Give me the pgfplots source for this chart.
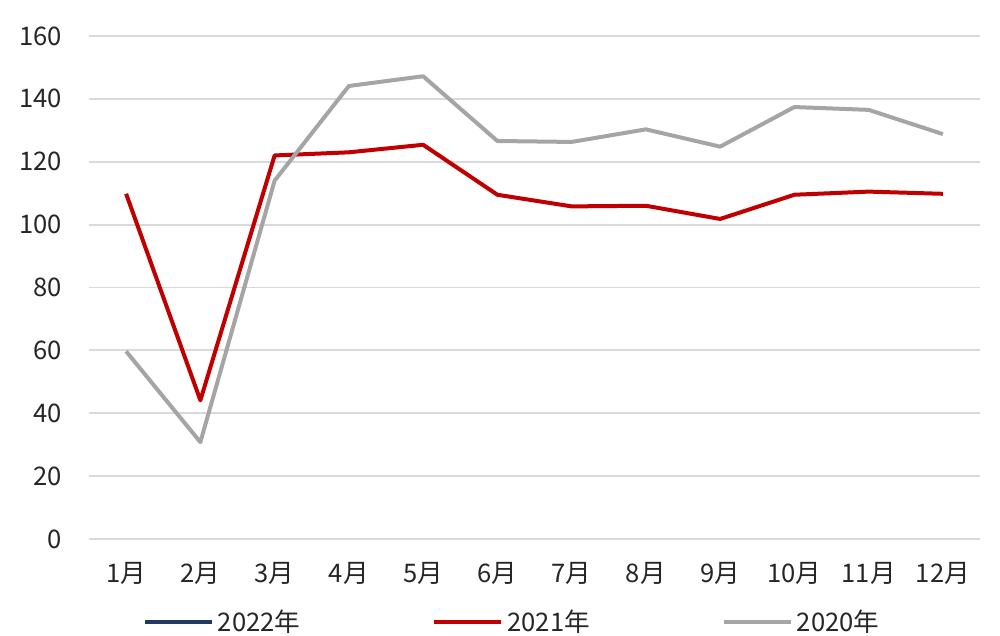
\documentclass[border=0pt]{standalone}
\usepackage{fontspec}
\setmainfont{Noto Sans CJK SC}
\usepackage{pgfplots}
\pgfplotsset{compat=1.18}
\usetikzlibrary{calc}

\definecolor{navy22}{HTML}{1F3864}
\definecolor{red21}{HTML}{C00000}
\definecolor{gray20}{HTML}{A5A5A5}
\definecolor{gridc}{HTML}{D9D9D9}

\begin{document}
\begin{tikzpicture}[font=\fontsize{12.8}{15}\selectfont]
\begin{axis}[
  width=445.5pt, height=251.5pt, scale only axis,
  xmin=0.5, xmax=12.5,
  ymin=0, ymax=160,
  xtick={1,...,12},
  xticklabels={1月,2月,3月,4月,5月,6月,7月,8月,9月,10月,11月,12月},
  ytick={0,20,...,160},
  ymajorgrids,
  grid style={draw=gridc, line width=0.9pt},
  axis line style={draw=none},
  tick style={draw=none},
  /pgf/number format/assume math mode=true,
  yticklabel style={xshift=-10pt, text=black!85},
  xticklabel style={yshift=-8pt, text=black!85},
  legend columns=3,
  legend style={draw=none, fill=none, at={(0.476,-0.165)}, anchor=center,
    /tikz/every even column/.append style={column sep=64pt},
    text=black!85},
  legend image code/.code={\draw[#1] (0pt,0pt) -- (33.5pt,0pt);},
]
\addlegendimage{navy22, line width=2pt}
\addlegendentry{2022年}

\addplot[red21, line width=2pt, line join=round] table {
x y
1 109.8
2 44.1
3 122.0
4 123.0
5 125.4
6 109.5
7 105.8
8 106.0
9 101.8
10 109.5
11 110.5
12 109.8
};
\addlegendentry{2021年}

\addplot[gray20, line width=2pt, line join=round] table {
x y
1 59.7
2 30.8
3 114.0
4 144.1
5 147.2
6 126.6
7 126.3
8 130.3
9 124.8
10 137.4
11 136.5
12 128.8
};
\addlegendentry{2020年}
\end{axis}
\pgfresetboundingbox
\path[use as bounding box] ($(current axis.south west)+(-44.5pt,-48.5pt)$) rectangle ($(current axis.north east)+(10pt,18pt)$);
\end{tikzpicture}
\end{document}
